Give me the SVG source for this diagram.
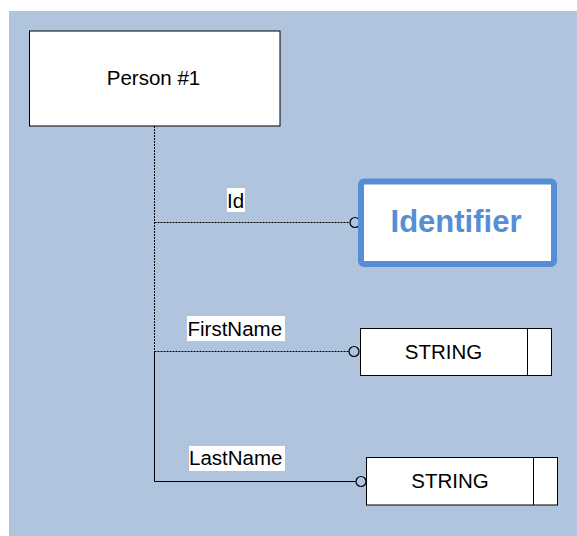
<svg xmlns="http://www.w3.org/2000/svg" width="577" height="536" viewBox="0 0 577 536">
<style>
.box{fill:#ffffff;stroke:#000000;stroke-width:1}
.t{font-family:"Liberation Sans",Arial,sans-serif;font-size:20.5px;fill:#000000;text-anchor:middle}
.lbl{font-family:"Liberation Sans",Arial,sans-serif;font-size:20.5px;fill:#000000}
.dot{fill:none;stroke:#000000;stroke-width:1;stroke-dasharray:2,1}
.sol{fill:none;stroke:#000000;stroke-width:1}
.end{fill:none;stroke:#000000;stroke-width:1.2}
.lb{fill:#ffffff}
</style>
<rect x="0" y="0" width="577" height="536" fill="#ffffff"/>
<rect x="9" y="11" width="568" height="525" fill="#B0C4DE"/>
<g id="connectors">
<line class="dot" x1="154.5" y1="126" x2="154.5" y2="352"/>
<line class="dot" x1="154.5" y1="222.5" x2="350" y2="222.5"/>
<line class="dot" x1="154.5" y1="351.5" x2="349" y2="351.5"/>
<polyline class="sol" points="154.5,352 154.5,481.5 356,481.5"/>
<circle class="end" cx="355" cy="222.5" r="5"/>
<circle class="end" cx="354" cy="351.5" r="5"/>
<circle class="end" cx="361" cy="481.5" r="5"/>
<rect class="lb" x="227" y="188" width="18" height="24"/>
<text class="lbl" x="227" y="207.5">Id</text>
<rect class="lb" x="187" y="316" width="98" height="25"/>
<text class="lbl" x="187.5" y="336">FirstName</text>
<rect class="lb" x="189" y="446" width="96" height="25"/>
<text class="lbl" x="189" y="464.5">LastName</text>
</g>
<g id="person">
<rect class="box" x="29.5" y="31" width="250.5" height="95"/>
<text class="t" x="153.5" y="84.5">Person #1</text>
</g>
<g id="identifier">
<rect x="361" y="181.5" width="193" height="82.5" rx="3" fill="#ffffff" stroke="#558ED5" stroke-width="6"/>
<text x="456" y="232" font-family="Liberation Sans, Arial, sans-serif" font-size="31" font-weight="bold" fill="#558ED5" text-anchor="middle">Identifier</text>
</g>
<g id="string1">
<rect class="box" x="360.5" y="328.5" width="191" height="47"/>
<line class="sol" x1="527.5" y1="328.5" x2="527.5" y2="375.5"/>
<text class="t" x="443.5" y="358.5">STRING</text>
</g>
<g id="string2">
<rect class="box" x="366.5" y="457.5" width="191" height="47.5"/>
<line class="sol" x1="533.5" y1="457.5" x2="533.5" y2="505"/>
<text class="t" x="450" y="487.5">STRING</text>
</g>
</svg>
